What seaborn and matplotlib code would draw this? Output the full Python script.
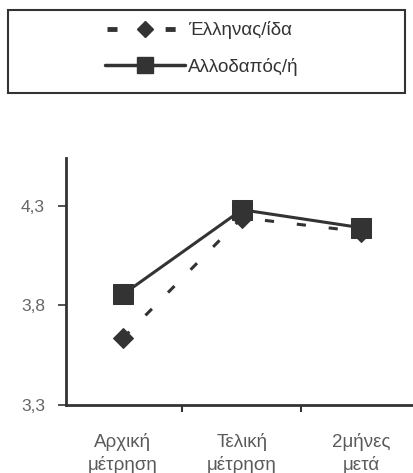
import pandas as pd
import matplotlib.pyplot as plt
import seaborn as sns
from matplotlib.lines import Line2D
from matplotlib.patches import Rectangle

# values
categories = ["Αρχική\nμέτρηση", "Τελική\nμέτρηση", "2μήνες\nμετά"]
greek = [3.635, 4.24, 4.17]
foreign = [3.855, 4.28, 4.19]
series_names = ["Έλληνας/ίδα", "Αλλοδαπός/ή"]
y_ticks = [3.3, 3.8, 4.3]

df = pd.DataFrame({
    "pos": list(range(3)) * 2,
    "value": greek + foreign,
    "group": [series_names[0]] * 3 + [series_names[1]] * 3,
})

sns.set_style("white")
plt.rcParams["font.family"] = ["Liberation Sans", "DejaVu Sans"]

ink = "#333333"
label_col = "#5a5a5a"

fig = plt.figure(figsize=(4.14, 4.73), dpi=100)
ax = fig.add_axes([0.159, 0.144, 0.845, 0.522])

sns.lineplot(
    data=df, x="pos", y="value", style="group", hue="group",
    palette=[ink, ink], markers=["D", "s"],
    dashes=[(3, 7.5), ""], linewidth=2.2, markersize=14,
    markeredgecolor=ink, legend=False, ax=ax,
)
# smaller diamond markers for the dashed series
ax.lines[0].set_markersize(10)

ax.set_xlim(-0.48, 2.46)
ax.set_ylim(3.3, 4.54)
ax.set_xticks(range(3))
ax.set_xticklabels(categories, fontsize=13.5, color=label_col, linespacing=1.35)
ax.set_xticks([0.5, 1.5], minor=True)
ax.tick_params(axis="x", which="major", length=0, pad=20)
ax.tick_params(axis="x", which="minor", length=5, width=1.5, color=ink, direction="out", bottom=True)
ax.set_yticks(y_ticks)
ax.set_yticklabels([f"{v:.1f}".replace(".", ",") for v in y_ticks], fontsize=12.5, color="#666666")
ax.tick_params(axis="y", length=6, width=1.2, color=ink, direction="out", left=True, pad=9)
ax.set_xlabel("")
ax.set_ylabel("")

for side in ["top", "right"]:
    ax.spines[side].set_visible(False)
for side in ["left", "bottom"]:
    ax.spines[side].set_color(ink)
    ax.spines[side].set_linewidth(2)

# legend box across the top
fig.patches.append(Rectangle((8 / 414, 1 - 93 / 473), 397 / 414, 83 / 473,
                             transform=fig.transFigure, fill=False,
                             edgecolor=ink, linewidth=1.5))
handles = [
    Line2D([], [], color=ink, linestyle=(11.55, (2.06, 9.9)), linewidth=3.5,
           marker="D", markersize=8),
    Line2D([], [], color=ink, linestyle="-", linewidth=2.5,
           marker="s", markersize=11),
]
fig.legend(handles, series_names, loc="center left", bbox_to_anchor=(105 / 414, 1 - 48.5 / 473),
           frameon=False, fontsize=13.5, handlelength=4.27, handletextpad=0.15,
           labelspacing=1.0, labelcolor=ink, borderpad=0, borderaxespad=0)

fig.savefig("out.png", dpi=100)
